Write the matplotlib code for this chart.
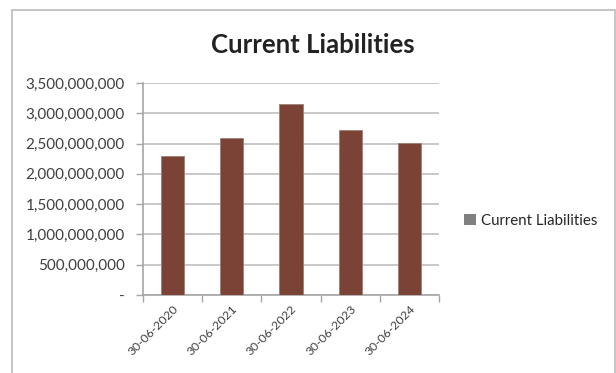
import matplotlib.pyplot as plt
from matplotlib.patches import Rectangle, Patch
from matplotlib.ticker import FuncFormatter
import numpy as np

dates = ["30-06-2020", "30-06-2021", "30-06-2022", "30-06-2023", "30-06-2024"]
liabilities = [2.295e9, 2.598e9, 3.160e9, 2.728e9, 2.512e9]
series_name = "Current Liabilities"

plt.rcParams['font.family'] = ['Lato', 'DejaVu Sans']

fig = plt.figure(figsize=(6.16, 3.73), dpi=100)
ax = fig.add_axes([143/616, 78/373, 296/616, 212/373])

# chart border
fig.patches.append(Rectangle((12/616, -0.05), 603/616, 1.05 - 10/373, transform=fig.transFigure,
                             fill=False, edgecolor='#BBBBBB', linewidth=1.2))

x = np.arange(len(dates))
ax.bar(x, liabilities, width=0.39, color='#7A4336', edgecolor='#A27E74', linewidth=0.6, zorder=3)

ax.set_xlim(-0.5, len(dates) - 0.5)
ax.set_ylim(0, 3.5e9)
ax.set_yticks(np.arange(0, 3.5e9 + 1, 0.5e9))
ax.yaxis.set_major_formatter(FuncFormatter(lambda v, p: "-" if v == 0 else f"{v:,.0f}"))
ax.grid(axis='y', color='#BFBFBF', linewidth=1.2, zorder=0)

ax.set_xticks(x)
ax.set_xticklabels(dates, rotation=45, ha='right', rotation_mode='anchor', fontsize=8.8, color='#404040')
ax.set_xticks(np.arange(-0.5, len(dates)), minor=True)
ax.tick_params(axis='x', which='major', length=0, pad=6)
ax.tick_params(axis='x', which='minor', length=5, color='#A6A6A6', width=1)
ax.tick_params(axis='y', length=5, color='#A6A6A6', width=1, labelsize=11, labelcolor='#404040', pad=8)

for s in ['top', 'right']:
    ax.spines[s].set_visible(False)
for s in ['left', 'bottom']:
    ax.spines[s].set_color('#A6A6A6')
    ax.spines[s].set_linewidth(1.2)

fig.text(313/616, 1 - 45/373, "Current Liabilities", ha='center', va='center',
         fontsize=18.5, fontweight='bold', color='#222222')

fig.legend(handles=[Patch(facecolor='#808080', edgecolor='none')], labels=[series_name],
           loc='center left', bbox_to_anchor=(451/616, 1 - 221/373), frameon=False,
           fontsize=10.8, handlelength=0.75, handleheight=0.75, handletextpad=0.35,
           labelcolor='#262626')

fig.savefig("out.png", dpi=100)
